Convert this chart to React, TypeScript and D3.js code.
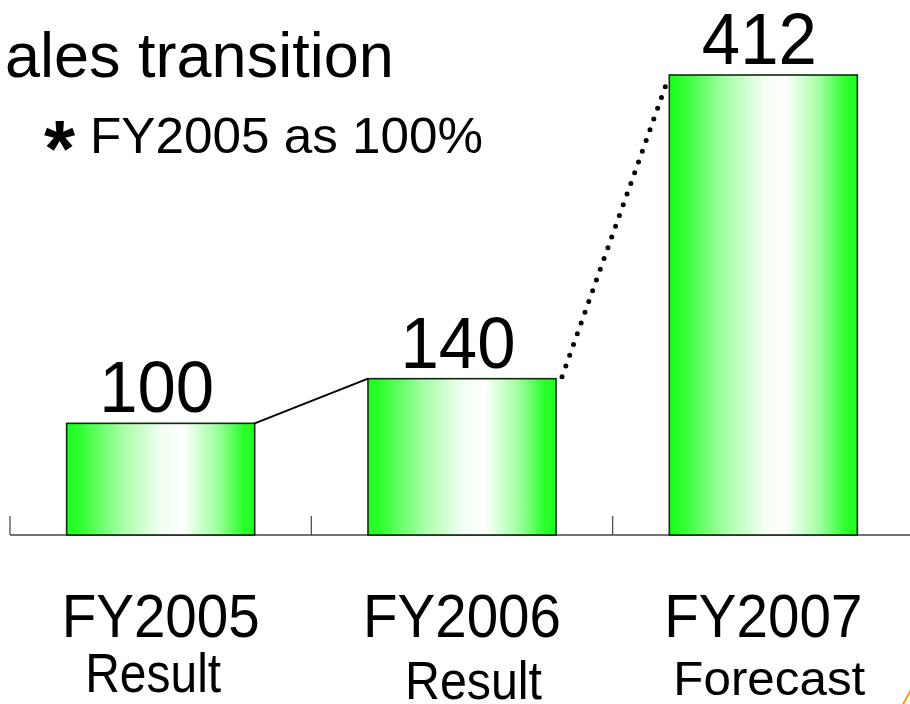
import React from "react";
import * as d3 from "d3";

const categories = ["FY2005", "FY2006", "FY2007"];
const subLabels = ["Result", "Result", "Forecast"];
const values = [100, 140, 412];
const valueLabels = ["100", "140", "412"];
const titleText = "ales transition";
const noteText = "FY2005 as 100%";

const W = 910;
const H = 704;
const FONT = "'Liberation Sans', Arial, sans-serif";

export default function App() {
  const baseY = 535;
  const x = d3.scaleBand<string>().domain(categories).range([10, 914]).padding(0);
  const y = d3.scaleLinear().domain([0, 412]).range([baseY, 75]);
  const barW = x.bandwidth() * 0.624;
  const barX = (c: string) => (x(c) as number) + (x.bandwidth() - barW) / 2;
  const cx = (c: string) => (x(c) as number) + x.bandwidth() / 2;

  // sub-label layout tweaks (layout only)
  const subDx = [-7.5, 11.5, 6];
  const subBase = [692, 699, 695];
  const subSize = [55, 54, 49];
  const subLen = [136, 137, 192];

  const solid = d3.line()([
    [barX(categories[0]) + barW, y(values[0])],
    [barX(categories[1]), y(values[1])],
  ]);
  const dotted = d3.line()([
    [barX(categories[1]) + barW + 6, y(values[1]) - 2],
    [barX(categories[2]) - 2, y(values[2]) + 6],
  ]);

  const ticks = [...categories.map((c) => x(c) as number)];

  return (
    <svg
      width={W}
      height={H}
      style={{ position: "absolute", left: 0, top: 0, background: "#fff" }}
    >
      <defs>
        <linearGradient id="barGrad" x1="0" x2="1" y1="0" y2="0">
          <stop offset="0" stopColor="#1eff1e" />
          <stop offset="0.06" stopColor="#2bff2b" />
          <stop offset="0.3" stopColor="#a8ffa8" />
          <stop offset="0.5" stopColor="#f2fff2" />
          <stop offset="0.62" stopColor="#ffffff" />
          <stop offset="0.8" stopColor="#a0ffa0" />
          <stop offset="0.94" stopColor="#2bff2b" />
          <stop offset="1" stopColor="#1eff1e" />
        </linearGradient>
      </defs>

      <text x={5} y={77} fontFamily={FONT} fontSize={63} fill="#000">
        {titleText}
      </text>
      <text x={44} y={176} fontFamily={FONT} fontSize={80} fontWeight="bold" fill="#000">
        *
      </text>
      <text
        x={90}
        y={153}
        fontFamily={FONT}
        fontSize={50}
        fill="#000"
        textLength={393}
        lengthAdjust="spacingAndGlyphs"
      >
        {noteText}
      </text>

      {/* baseline and ticks */}
      <line x1={10} x2={W} y1={baseY} y2={baseY} stroke="#444" strokeWidth={1.5} />
      {ticks.map((t, i) => (
        <line key={i} x1={t} x2={t} y1={baseY} y2={baseY - 19} stroke="#444" strokeWidth={1.2} />
      ))}

      {categories.map((c, i) => (
        <rect
          key={c}
          x={barX(c)}
          y={y(values[i])}
          width={barW}
          height={baseY - y(values[i])}
          fill="url(#barGrad)"
          stroke="#0d2a0d"
          strokeWidth={1.6}
        />
      ))}

      <path d={solid ?? ""} stroke="#000" strokeWidth={2} fill="none" />
      <path
        d={dotted ?? ""}
        stroke="#000"
        strokeWidth={5}
        fill="none"
        strokeLinecap="round"
        strokeDasharray="0 11.4"
      />

      {categories.map((c, i) => (
        <text
          key={"v" + c}
          x={cx(c) - 4}
          y={y(values[i]) - 11}
          textAnchor="middle"
          fontFamily={FONT}
          fontSize={72}
          fill="#000"
          textLength={115}
          lengthAdjust="spacingAndGlyphs"
        >
          {valueLabels[i]}
        </text>
      ))}

      {categories.map((c, i) => (
        <text
          key={"c" + c}
          x={cx(c)}
          y={637}
          textAnchor="middle"
          fontFamily={FONT}
          fontSize={61}
          fill="#000"
          textLength={198}
          lengthAdjust="spacingAndGlyphs"
        >
          {c}
        </text>
      ))}

      {categories.map((c, i) => (
        <text
          key={"s" + c}
          x={cx(c) + subDx[i]}
          y={subBase[i]}
          textAnchor="middle"
          fontFamily={FONT}
          fontSize={subSize[i]}
          fill="#000"
          textLength={subLen[i]}
          lengthAdjust="spacingAndGlyphs"
        >
          {subLabels[i]}
        </text>
      ))}

      <line x1={902} y1={706} x2={912} y2={688} stroke="#f0a020" strokeWidth={2} />
    </svg>
  );
}
